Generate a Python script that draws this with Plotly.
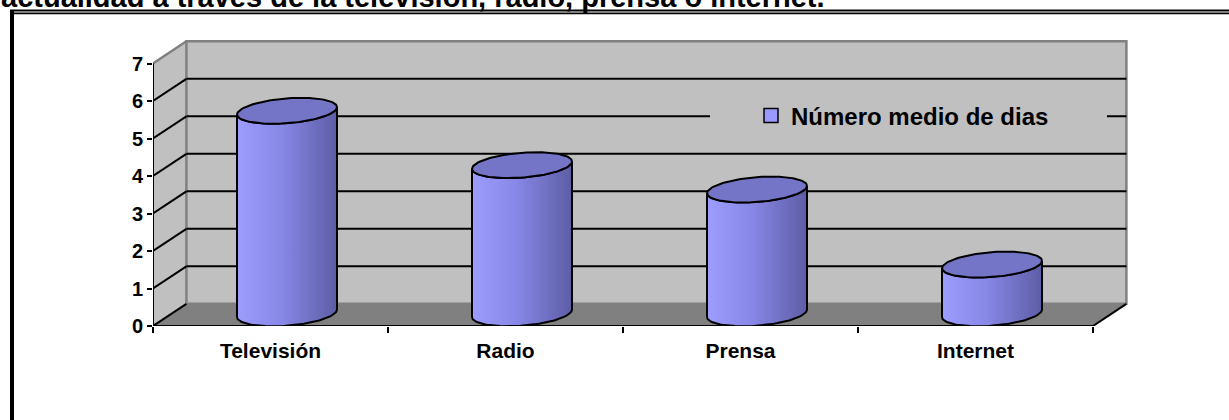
import numpy as np
import plotly.graph_objects as go

# ---------------- data ----------------
categories = ["Televisión", "Radio", "Prensa", "Internet"]
values = [5.4, 3.95, 3.3, 1.3]
y_ticks = [0, 1, 2, 3, 4, 5, 6, 7]
series_name = "Número medio de dias"
title_text = "actualidad a través de la televisión, radio, prensa o internet."

# ---------------- layout constants ----------------
W, H = 1229, 420
ML, MT = 153, 36
MB = 420 - 326
MR = 1229 - 1131
PLOT_W = W - ML - MR
PLOT_H = H - MT - MB
PX_X = 235.0   # px per category
PX_Y = 37.5    # px per unit value

x_lo = -0.5
x_hi = x_lo + PLOT_W / PX_X
y_hi = PLOT_H / PX_Y
n = len(categories)
x_end = n - 0.5
y_top = max(y_ticks)

DX = 33.4 / PX_X     # 3D depth offset (x)
DY = 22.2 / PX_Y     # 3D depth offset (y)

CYL_DX = 16.5 / PX_X
CYL_BASE = 12.7 / PX_Y
A = 50.0 / PX_X
BV = 12.4 / PX_Y
SH = 3.7 / PX_Y

FONT = "Liberation Sans, Arial, sans-serif"
WALL = "#C0C0C0"
FLOOR = "#808080"
EDGE = "#808080"


# helpers: picture pixel -> data / paper coordinates
def px2x(px):
    return x_lo + (px - ML) / PX_X


def py2y(py):
    return (H - MB - py) / PX_Y


def ppx(px):
    return (px - ML) / PLOT_W


def ppy(py):
    return (H - MB - py) / PLOT_H


shapes = []


def line(x0, y0, x1, y1, color="black", width=2, ref="x"):
    d = dict(type="line", x0=x0, y0=y0, x1=x1, y1=y1,
             line=dict(color=color, width=width), layer="below")
    if ref == "paper":
        d.update(xref="paper", yref="paper", layer="above")
    else:
        d.update(xref="x", yref="y")
    shapes.append(d)


# floor
shapes.append(dict(type="path", xref="x", yref="y", layer="below",
                   path=f"M {x_lo},0 L {x_end},0 L {x_end+DX},{DY} L {x_lo+DX},{DY} Z",
                   fillcolor=FLOOR, line=dict(width=0)))
# left wall
shapes.append(dict(type="path", xref="x", yref="y", layer="below",
                   path=f"M {x_lo},0 L {x_lo+DX},{DY} L {x_lo+DX},{y_top+DY} L {x_lo},{y_top} Z",
                   fillcolor=WALL, line=dict(width=0)))
# back wall
shapes.append(dict(type="rect", xref="x", yref="y", layer="below",
                   x0=x_lo + DX, x1=x_end + DX, y0=DY, y1=y_top + DY,
                   fillcolor=WALL, line=dict(color=EDGE, width=2.5)))
# left wall top edge
line(x_lo, y_top, x_lo + DX, y_top + DY, color=EDGE, width=2.5)
# grid lines
for v in y_ticks[:-1]:
    line(x_lo, v, x_lo + DX, v + DY, color="black", width=2)
    if v > 0:
        line(x_lo + DX, v + DY, x_end + DX, v + DY, color="black", width=2)
# floor right edge
line(x_end, 0, x_end + DX, DY, color="black", width=2)
# legend background covering grid line
shapes.append(dict(type="rect", xref="x", yref="y", layer="below",
                   x0=px2x(710), x1=px2x(1107), y0=py2y(131), y1=py2y(101),
                   fillcolor=WALL, line=dict(width=0)))
# axes lines
line(x_lo, 0, x_lo, y_top, color="black", width=2)
line(x_lo, 0, x_end, 0, color="black", width=2)

# outer frame
line(ppx(12), ppy(10.5), ppx(12), ppy(425), color="black", width=4, ref="paper")
line(ppx(10), ppy(10.5), ppx(1235), ppy(10.5), color="black", width=2, ref="paper")
line(ppx(10), ppy(13.4), ppx(1235), ppy(13.4), color="black", width=1.7, ref="paper")

fig = go.Figure()

t_low = np.linspace(np.pi, 2 * np.pi, 60)
t_all = np.linspace(0, 2 * np.pi, 120)
for i, v in enumerate(values):
    cx = i + CYL_DX
    top = CYL_BASE + v
    bx = cx + A * np.cos(t_low)
    by = CYL_BASE + BV * np.sin(t_low) + SH * np.cos(t_low)
    tx = (cx + A * np.cos(t_low))[::-1]
    ty = (top + BV * np.sin(t_low) + SH * np.cos(t_low))[::-1]
    xs = np.concatenate([bx, tx, bx[:1]])
    ys = np.concatenate([by, ty, by[:1]])
    fig.add_trace(go.Scatter(
        x=xs, y=ys, mode="lines", fill="toself",
        line=dict(color="black", width=2),
        fillgradient=dict(type="horizontal",
                          colorscale=[[0, "#9D9DFF"], [0.45, "#8787E6"], [1, "#5D5DA6"]]),
        showlegend=False, hoverinfo="skip"))
    fig.add_trace(go.Scatter(
        x=cx + A * np.cos(t_all),
        y=top + BV * np.sin(t_all) + SH * np.cos(t_all),
        mode="lines", fill="toself", fillcolor="#7575C8",
        line=dict(color="black", width=2),
        showlegend=False, hoverinfo="skip"))

fig.add_trace(go.Scatter(
    x=[None], y=[None], mode="markers", name=series_name,
    marker=dict(symbol="square", size=14, color="#9999FF",
                line=dict(color="black", width=1.5))))

fig.update_layout(
    width=W, height=H,
    margin=dict(l=ML, r=MR, t=MT, b=MB, pad=0),
    paper_bgcolor="white", plot_bgcolor="rgba(0,0,0,0)",
    shapes=shapes,
    showlegend=True,
    hovermode=False,
    legend=dict(x=ppx(751), y=ppy(116), xanchor="left", yanchor="middle",
                bgcolor="rgba(0,0,0,0)", borderwidth=0,
                font=dict(family=FONT, size=24, color="black", weight="bold")),
    annotations=[dict(text=title_text, xref="paper", yref="paper",
                      x=ppx(-1), y=ppy(-2.9), xanchor="left", yanchor="middle",
                      showarrow=False,
                      font=dict(family=FONT, size=29, color="black", weight="bold"))],
    xaxis=dict(range=[x_lo, x_hi], showgrid=False, zeroline=False, showline=False,
               tickmode="array", tickvals=list(range(n)), ticktext=categories,
               ticks="", ticklabelstandoff=10,
               tickfont=dict(family=FONT, size=21, color="black", weight="bold"),
               minor=dict(tickmode="array", tickvals=[k - 0.5 for k in range(n + 1)],
                          ticks="outside", ticklen=6, tickwidth=2, tickcolor="black",
                          showgrid=False)),
    yaxis=dict(range=[0, y_hi], showgrid=False, zeroline=False, showline=False,
               tickmode="array", tickvals=y_ticks, ticks="outside", ticklen=5,
               tickwidth=2, tickcolor="black",
               tickfont=dict(family=FONT, size=20, color="black", weight="bold")),
)

fig.write_html("out.html",
               config={"displayModeBar": False, "staticPlot": True},
               post_script="document.body.style.margin='0px';document.body.style.overflow='hidden';")
